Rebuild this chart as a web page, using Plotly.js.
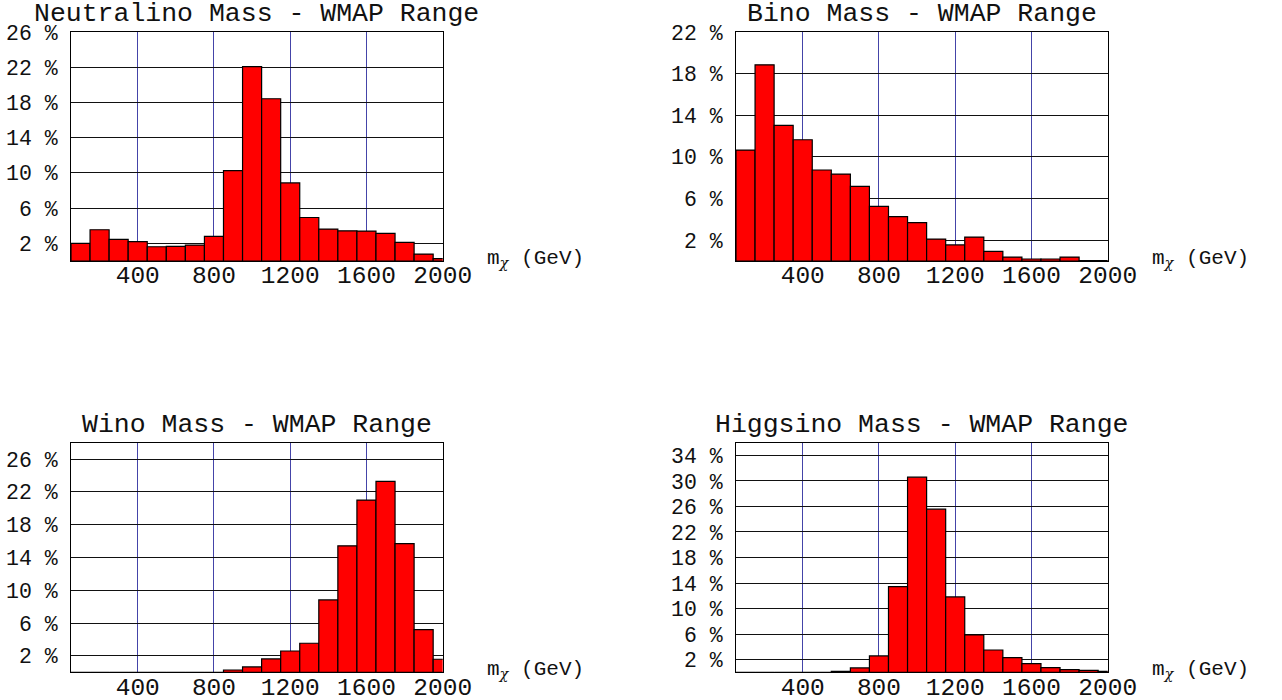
<!DOCTYPE html>
<html>
<head>
<meta charset="utf-8">
<script src="https://cdn.plot.ly/plotly-3.0.1.min.js"></script>
<style>html,body{margin:0;padding:0;background:#fff}#chart{width:1282px;height:700px}</style>
</head>
<body>
<div id="chart"></div>
<script>
// Bin centres (GeV), bin width 100
var binCenters = [100,200,300,400,500,600,700,800,900,1000,1100,1200,1300,1400,1500,1600,1700,1800,1900,2000];
// Percentages per bin
var neutralino = [2.0,3.55,2.45,2.19,1.62,1.66,1.81,2.79,10.26,22.08,18.42,8.87,4.94,3.62,3.43,3.40,3.13,2.11,0.79,0.26];
var bino       = [10.66,18.85,13.02,11.65,8.74,8.35,7.17,5.25,4.26,3.68,2.11,1.54,2.30,0.93,0.38,0.19,0.19,0.38,0.03,0.03];
var wino       = [0,0,0,0,0,0,0,0,0.28,0.65,1.63,2.60,3.54,8.83,15.42,21.0,23.28,15.7,5.21,1.59];
var higgsino   = [0,0,0,0,0,0.16,0.68,2.56,13.44,30.6,25.57,11.82,5.86,3.5,2.30,1.36,0.73,0.42,0.31,0.16];

var titles = ["Neutralino Mass - WMAP Range","Bino Mass - WMAP Range","Wino Mass - WMAP Range","Higgsino Mass - WMAP Range"];
var xTicks = [400,800,1200,1600,2000];
var yTicks1 = [2,6,10,14,18,22,26];
var yTicks2 = [2,6,10,14,18,22];
var yTicks3 = [2,6,10,14,18,22,26];
var yTicks4 = [2,6,10,14,18,22,26,30,34];
var yMax = [26,22,28,36];
var xLabel = "m<sub><span style=\"font-family:'DejaVu Serif';font-style:italic\">χ</span></sub> (GeV)";

var series = [neutralino,bino,wino,higgsino];
var yTickSets = [yTicks1,yTicks2,yTicks3,yTicks4];

var W = 1282, H = 700;
var boxes = [
  {l:71, r:442.7, t:32, b:261},
  {l:736, r:1107.7, t:32, b:261},
  {l:71, r:442.7, t:442.7, b:672.3},
  {l:736, r:1107.7, t:442.7, b:672.3}
];

var mono = "'Liberation Mono', 'Courier New', monospace";
var data = [];
var layout = {
  width: W, height: H,
  margin: {l:0, r:0, t:0, b:0},
  paper_bgcolor: '#fff', plot_bgcolor: '#fff',
  showlegend: false,
  bargap: 0,
  font: {family: mono, color: '#111'},
  annotations: []
};

for (var i = 0; i < 4; i++) {
  var n = i === 0 ? '' : String(i + 1);
  var bx = boxes[i];
  data.push({
    type: 'bar',
    x: binCenters,
    y: series[i],
    width: 100,
    xaxis: 'x' + n,
    yaxis: 'y' + n,
    marker: {color: '#ff0000', line: {color: '#000', width: 1.2}},
    hoverinfo: 'x+y'
  });
  layout['xaxis' + n] = {
    domain: [bx.l / W, bx.r / W],
    anchor: 'y' + n,
    range: [50, 2000],
    tickvals: xTicks,
    ticks: '',
    ticklen: 0,
    showgrid: true,
    gridcolor: '#4444a8',
    gridwidth: 1,
    zeroline: false,
    showline: true,
    linecolor: '#000',
    linewidth: 1,
    mirror: true,
    tickfont: {family: mono, size: 24.5, color: '#111'},
    ticklabelstandoff: -8
  };
  layout['yaxis' + n] = {
    domain: [1 - bx.b / H, 1 - bx.t / H],
    anchor: 'x' + n,
    range: [0, yMax[i]],
    tickvals: yTickSets[i],
    ticktext: yTickSets[i].map(function (v) { return v + ' %'; }),
    ticks: '',
    ticklen: 0,
    showgrid: true,
    gridcolor: '#111',
    gridwidth: 1,
    zeroline: false,
    showline: true,
    linecolor: '#000',
    linewidth: 1,
    mirror: true,
    tickfont: {family: mono, size: 21.5, color: '#111'},
    ticklabelstandoff: 8
  };
  layout.annotations.push({
    text: titles[i],
    xref: 'paper', yref: 'paper',
    x: (bx.l + bx.r) / 2 / W,
    y: 1 - (bx.t - 18) / H,
    xanchor: 'center', yanchor: 'middle',
    showarrow: false,
    font: {family: mono, size: 26.5, color: '#111'}
  });
  layout.annotations.push({
    text: xLabel,
    xref: 'paper', yref: 'paper',
    x: (bx.r + 42) / W,
    y: 1 - (bx.b - 2) / H,
    xanchor: 'left', yanchor: 'middle',
    showarrow: false,
    font: {family: mono, size: 21, color: '#111'}
  });
}

Plotly.newPlot('chart', data, layout, {displayModeBar: false, staticPlot: true});
</script>
</body>
</html>
